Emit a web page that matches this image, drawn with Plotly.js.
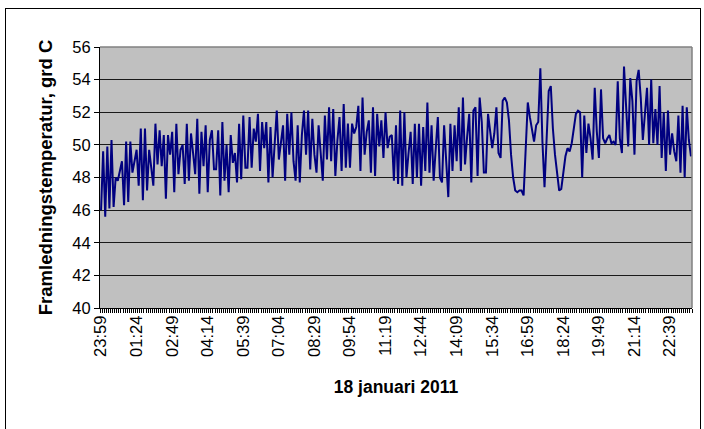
<!DOCTYPE html>
<html>
<head>
<meta charset="utf-8">
<script src="https://cdn.plot.ly/plotly-3.0.1.min.js"></script>
<style>
  html, body { margin: 0; padding: 0; background: #fff; overflow: hidden; }
  #wrap { position: relative; width: 704px; height: 429px; }
  #chart { position: absolute; left: 0; top: 0; width: 704px; height: 429px; }
  #frame { position: absolute; left: 5px; top: 8px; width: 694px; height: 440px; border: 1px solid #000; pointer-events: none; }
</style>
</head>
<body>
<div id="wrap"><div id="chart"></div><div id="frame"></div></div>
<script>
// Temperature readings (grd C), one per 5-minute sample, starting 23:59
const seg1 = [46.0, 49.6, 45.6, 49.9, 46.1, 50.3, 46.2, 48.0, 47.8, 48.4, 49.0, 46.3, 50.2, 46.5, 50.2, 48.3, 48.9, 49.7, 47.5, 51.0, 46.6, 51.0, 47.2, 49.7, 48.6, 47.5, 51.3, 48.8, 50.9, 48.7, 50.6, 46.7, 50.6, 49.4, 50.8, 47.1, 51.3, 48.2, 49.7];
const seg2 = [50.0, 47.6, 51.3, 47.8, 50.7, 49.5, 48.2, 51.6, 47.0, 50.8, 48.7, 51.2, 47.1, 50.3, 50.9, 48.5, 48.5, 50.9, 46.9, 51.4, 47.8, 50.0, 47.1, 50.6, 48.9, 49.5, 47.7, 51.3, 47.9, 51.8, 48.6, 48.6, 51.7, 48.6, 51.0, 50.2, 51.9, 48.4, 51.4, 49.8];
const seg3 = [51.4, 47.7, 51.1, 48.0, 50.2, 52.1, 49.1, 50.0, 51.2, 47.8, 51.9, 49.4, 52.0, 49.0, 47.8, 51.2, 47.7, 50.6, 52.1, 49.4, 52.1, 48.5, 51.6, 49.4, 48.3, 51.2, 49.5, 47.8, 51.8, 49.1, 52.3, 49.0, 52.2, 48.1, 50.3, 51.7, 48.4, 52.5, 48.6, 51.3];
const seg4 = [48.6, 51.3, 50.7, 51.1, 52.4, 48.4, 52.9, 49.4, 50.8, 51.5, 48.3, 52.3, 48.1, 51.9, 49.9, 51.5, 49.2, 52.0, 49.8, 50.5, 50.6, 47.8, 51.2, 47.6, 52.1, 47.5, 52.0, 48.0, 49.5, 50.8, 47.6, 51.3, 48.0, 51.3, 47.5, 51.1, 48.4, 52.6, 48.3, 51.2, 47.8];
const seg5 = [49.8, 51.7, 48.0, 47.7, 51.2, 48.8, 46.8, 51.3, 48.4, 51.2, 49.0, 52.3, 48.4, 52.9, 48.8, 50.5, 51.9, 47.7, 52.1, 52.3, 48.1, 52.9, 51.4, 48.3, 48.3, 51.9, 51.0, 49.8, 50.7, 52.3, 49.5, 49.2, 52.7, 52.9, 52.6, 51.5, 49.4, 48.0, 47.2, 47.1];
const seg6 = [47.2, 47.2, 46.9, 49.8, 52.6, 51.7, 51.0, 50.2, 51.2, 51.4, 54.7, 50.2, 47.4, 50.8, 53.3, 53.6, 51.0, 49.4, 48.1, 47.2, 47.3, 48.5, 49.3, 49.8, 49.6, 50.1, 50.9, 51.9, 52.1, 52.0, 48.0, 51.8, 49.5, 51.3, 50.4, 49.1, 53.5, 50.8, 49.2, 53.4, 50.4, 50.1];
const seg7 = [50.4, 50.6, 50.1, 50.2, 50.0, 53.9, 50.4, 49.5, 54.8, 52.2, 49.9, 54.1, 52.7, 49.4, 53.9, 54.6, 52.9, 50.3, 51.8, 53.5, 50.0, 54.0, 50.1, 52.2, 50.0, 53.6, 49.2, 52.0, 48.4, 52.1, 49.4, 50.7, 49.6, 49.0, 51.8, 48.3, 52.4, 48.0, 52.3, 50.3, 49.3];

const temps = [].concat(seg1, seg2, seg3, seg4, seg5, seg6, seg7);
const sampleIndex = temps.map((_, i) => i);

const tickLabels = ["23:59", "01:24", "02:49", "04:14", "05:39", "07:04", "08:29", "09:54", "11:19", "12:44", "14:09", "15:34", "16:59", "18:24", "19:49", "21:14", "22:39"];
const labelEvery = 17;
const tickPositions = tickLabels.map((_, k) => k * labelEvery);

const yTicks = [40, 42, 44, 46, 48, 50, 52, 54, 56];

const FONT = 'Arial, "Liberation Sans", sans-serif';

const trace = {
  x: sampleIndex,
  y: temps,
  type: 'scatter',
  mode: 'lines',
  line: { color: '#000080', width: 2 },
  hoverinfo: 'skip'
};

const layout = {
  width: 704,
  height: 429,
  margin: { l: 100, r: 12, t: 47, b: 121 },
  paper_bgcolor: 'rgba(0,0,0,0)',
  plot_bgcolor: '#C0C0C0',
  showlegend: false,
  font: { family: FONT, color: '#000' },
  xaxis: {
    range: [-0.5, temps.length - 0.5],
    tickmode: 'array',
    tickvals: tickPositions,
    ticktext: tickLabels,
    tickangle: -90,
    tickfont: { family: FONT, size: 16.5, color: '#000' },
    ticks: '',
    showgrid: false,
    zeroline: false,
    showline: true,
    linecolor: '#000',
    linewidth: 1,
    minor: { tickmode: 'linear', tick0: -0.5, dtick: 1, ticks: 'outside', ticklen: 4, tickcolor: '#000', tickwidth: 1, showgrid: false },
    title: { text: '<b>18 januari 2011</b>', font: { family: FONT, size: 17.5, color: '#000' }, standoff: 24 },
    automargin: false
  },
  yaxis: {
    range: [40, 56],
    tickmode: 'array',
    tickvals: yTicks,
    ticktext: yTicks.map(String),
    tickfont: { family: FONT, size: 16.5, color: '#000' },
    ticks: 'outside',
    ticklen: 5,
    tickcolor: '#000',
    showgrid: true,
    gridcolor: '#1a1a1a',
    gridwidth: 1,
    zeroline: false,
    showline: true,
    linecolor: '#000',
    linewidth: 1,
    title: { text: '<b>Framledningstemperatur, grd C</b>', font: { family: FONT, size: 18.5, color: '#000' }, standoff: 14 },
    automargin: false
  },
  shapes: [
    { type: 'line', xref: 'paper', yref: 'paper', x0: 0, x1: 1, y0: 1, y1: 1, line: { color: '#808080', width: 1.5 }, layer: 'above' },
    { type: 'line', xref: 'paper', yref: 'paper', x0: 1, x1: 1, y0: 0, y1: 1, line: { color: '#808080', width: 1.5 }, layer: 'above' }
  ]
};

Plotly.newPlot('chart', [trace], layout, { displayModeBar: false, staticPlot: true });
</script>
</body>
</html>
